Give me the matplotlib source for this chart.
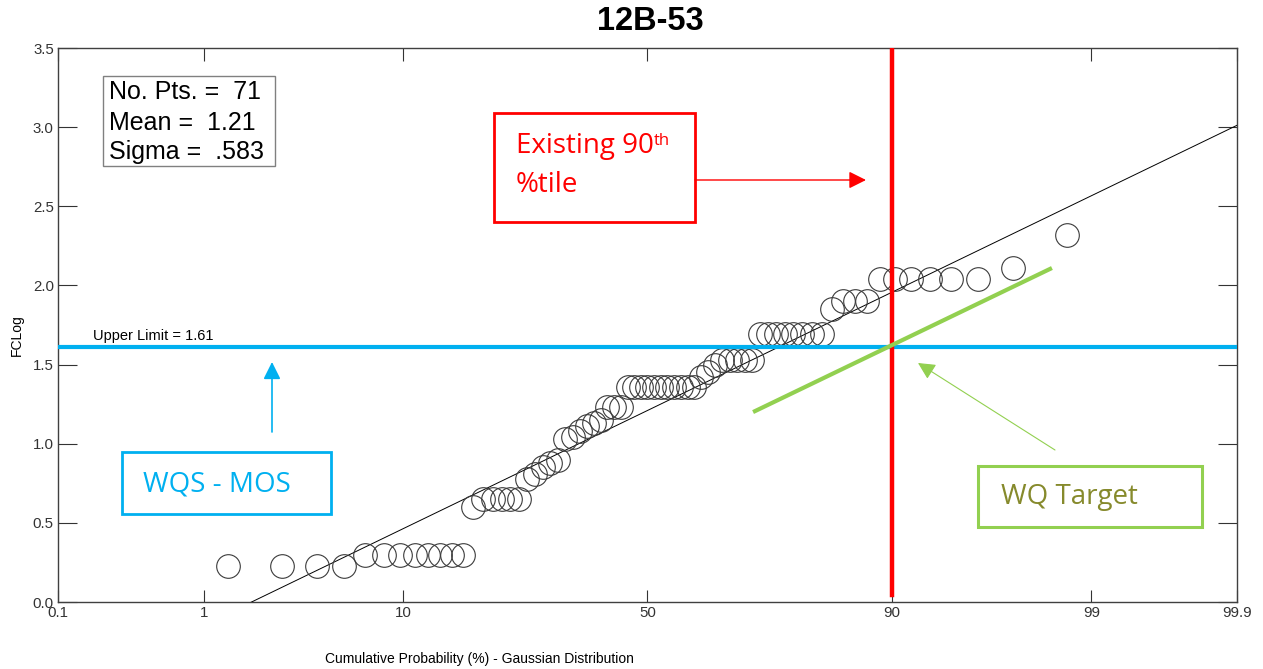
import matplotlib
matplotlib.use("Agg")
import matplotlib.pyplot as plt
import matplotlib.patches as mpatches
import matplotlib.text as mtext
import numpy as np
from statistics import NormalDist

# station and summary stats shown in the box
station = "12B-53"
n_pts = 71
mean_log = 1.21
sigma_log = 0.583
upper_limit = 1.61
target_pct = 90

# sorted FC log values
fc_log = [
    0.23, 0.23, 0.23, 0.23,
    0.30, 0.30, 0.30, 0.30, 0.30, 0.30, 0.30, 0.30,
    0.60, 0.65, 0.65, 0.65, 0.65, 0.65,
    0.78, 0.81, 0.85, 0.88, 0.90, 1.03, 1.04, 1.08, 1.11, 1.13, 1.15,
    1.23, 1.23, 1.23,
    1.36, 1.36, 1.36, 1.36, 1.36, 1.36, 1.36, 1.36, 1.36, 1.36, 1.36,
    1.42, 1.45, 1.50, 1.53, 1.53, 1.53, 1.53, 1.53,
    1.69, 1.69, 1.69, 1.69, 1.69, 1.69, 1.69, 1.69,
    1.85, 1.90, 1.90, 1.90,
    2.04, 2.04, 2.04, 2.04, 2.04, 2.04,
    2.11, 2.32,
]

# WQ target line end points (percent, FCLog)
target_line_p = [71.0, 98.3]
target_line_y = [1.20, 2.11]

x_ticks = [0.1, 1, 10, 50, 90, 99, 99.9]
x_tick_labels = ["0.1", "1", "10", "50", "90", "99", "99.9"]
y_ticks = [0.0, 0.5, 1.0, 1.5, 2.0, 2.5, 3.0, 3.5]

plt.rcParams["font.family"] = ["Liberation Sans", "DejaVu Sans"]

nd = NormalDist()


def prob_fwd(p):
    p = np.clip(np.asarray(p, dtype=float) / 100.0, 1e-9, 1 - 1e-9)
    out = [nd.inv_cdf(v) if np.isfinite(v) else np.nan for v in p.ravel()]
    return np.array(out).reshape(p.shape)


def prob_inv(z):
    z = np.asarray(z, dtype=float)
    out = [nd.cdf(v) * 100.0 if np.isfinite(v) else np.nan for v in z.ravel()]
    return np.array(out).reshape(z.shape)


W, H = 1263, 669
fig = plt.figure(figsize=(W / 100, H / 100), dpi=100)


def fx(x):
    return x / W


def fy(y):
    return 1 - y / H


ax = fig.add_axes([fx(58), fy(602), (1237 - 58) / W, (602 - 48) / H])
ax.set_xscale("function", functions=(prob_fwd, prob_inv))
ax.set_xlim(0.1, 99.9)
ax.set_ylim(0, 3.5)

# plotting positions i/(n+1)
ranks = np.arange(1, len(fc_log) + 1)
pp = 100.0 * ranks / (len(fc_log) + 1)

# fitted gaussian line
fit_p = np.array([0.1, 99.9])
fit_y = mean_log + sigma_log * prob_fwd(fit_p)
ax.plot(fit_p, fit_y, color="black", lw=0.7, zorder=3)

ax.plot(pp, fc_log, "o", mfc="none", mec="#3a3a3a", ms=17, mew=0.8, zorder=4)

ax.axhline(upper_limit, color="#00B0F0", lw=3, zorder=5)
ax.axvline(target_pct, ymin=0.012, color="#FF0000", lw=3.2, zorder=6)
ax.plot(target_line_p, target_line_y, color="#92D050", lw=3, zorder=6,
        solid_capstyle="butt")

ax.text(0.03, upper_limit + 0.025, "Upper Limit = %.2f" % upper_limit,
        transform=ax.get_yaxis_transform(), fontsize=10.5, va="bottom")

ax.set_xticks(x_ticks)
ax.set_xticklabels(x_tick_labels)
ax.set_yticks(y_ticks)
ax.set_yticklabels(["%.1f" % v for v in y_ticks])
ax.minorticks_off()
ax.tick_params(direction="in", top=True, right=True, labelsize=10.8,
               colors="#333333", pad=3)
ax.tick_params(axis="y", length=14)
ax.tick_params(axis="x", length=9)
for s in ax.spines.values():
    s.set_color("#404040")
    s.set_linewidth(1.0)

fig.text(fx(650), fy(22), station, ha="center", va="center",
         fontsize=23.5, fontweight="bold")
fig.text(fx(479), fy(659), "Cumulative Probability (%) - Gaussian Distribution",
         ha="center", va="center", fontsize=10)
fig.text(fx(17), fy(335), "FCLog", rotation=90, ha="center", va="center",
         fontsize=10)

# stats box
fig.add_artist(mpatches.Rectangle((fx(103), fy(166)), (275 - 103) / W,
                                  (166 - 76) / H, transform=fig.transFigure,
                                  fc="white", ec="#808080", lw=1, zorder=10))
stats_lines = ["No. Pts. =  %d" % n_pts, "Mean =  %.2f" % mean_log,
               "Sigma =  %s" % ("%.3f" % sigma_log).lstrip("0")]
for yy, line in zip([92, 123, 152], stats_lines):
    fig.text(fx(109), fy(yy), line, fontsize=18, va="center", zorder=11)


def box(x0, y0, x1, y1, color, lw):
    fig.add_artist(mpatches.Rectangle((fx(x0), fy(y1)), (x1 - x0) / W,
                                      (y1 - y0) / H, transform=fig.transFigure,
                                      fc="white", ec=color, lw=lw, zorder=10))


def arrow(x0, y0, x1, y1, color, lw):
    fig.add_artist(mpatches.FancyArrowPatch(
        (fx(x0), fy(y0)), (fx(x1), fy(y1)), transform=fig.transFigure,
        arrowstyle="-|>", mutation_scale=26, color=color, lw=lw,
        shrinkA=0, shrinkB=0, zorder=12))


ann_font = ["Open Sans", "DejaVu Sans"]

# existing 90th percentile
box(494, 113, 695, 222, "#FF0000", 2)
t90 = fig.text(fx(516), fy(146), "Existing 90", color="#FF0000", fontsize=20,
               va="center", family=ann_font, zorder=11)
sup = mtext.Annotation("th", xy=(1, 0.95), xycoords=t90, color="#FF0000",
                       fontsize=12, va="top", ha="left", family=ann_font,
                       annotation_clip=False)
sup.set_zorder(12)
fig.add_artist(sup)
fig.text(fx(516), fy(185), "%tile", color="#FF0000", fontsize=20, va="center",
         family=ann_font, zorder=11)
arrow(695, 180, 866, 180, "#FF0000", 1)

# WQS - MOS
box(122, 452, 331, 514, "#00B0F0", 2)
fig.text(fx(143), fy(484), "WQS - MOS", color="#00B0F0", fontsize=20,
         va="center", family=ann_font, zorder=11)
arrow(272, 432, 272, 362, "#00B0F0", 1.2)

# WQ Target
box(978, 466, 1202, 527, "#92D050", 2.2)
fig.text(fx(1001), fy(497), "WQ Target", color="#868A2C", fontsize=20,
         va="center", family=ann_font, zorder=11)
arrow(1055, 450, 918, 363, "#92D050", 0.8)

fig.savefig("out.png", dpi=100)
